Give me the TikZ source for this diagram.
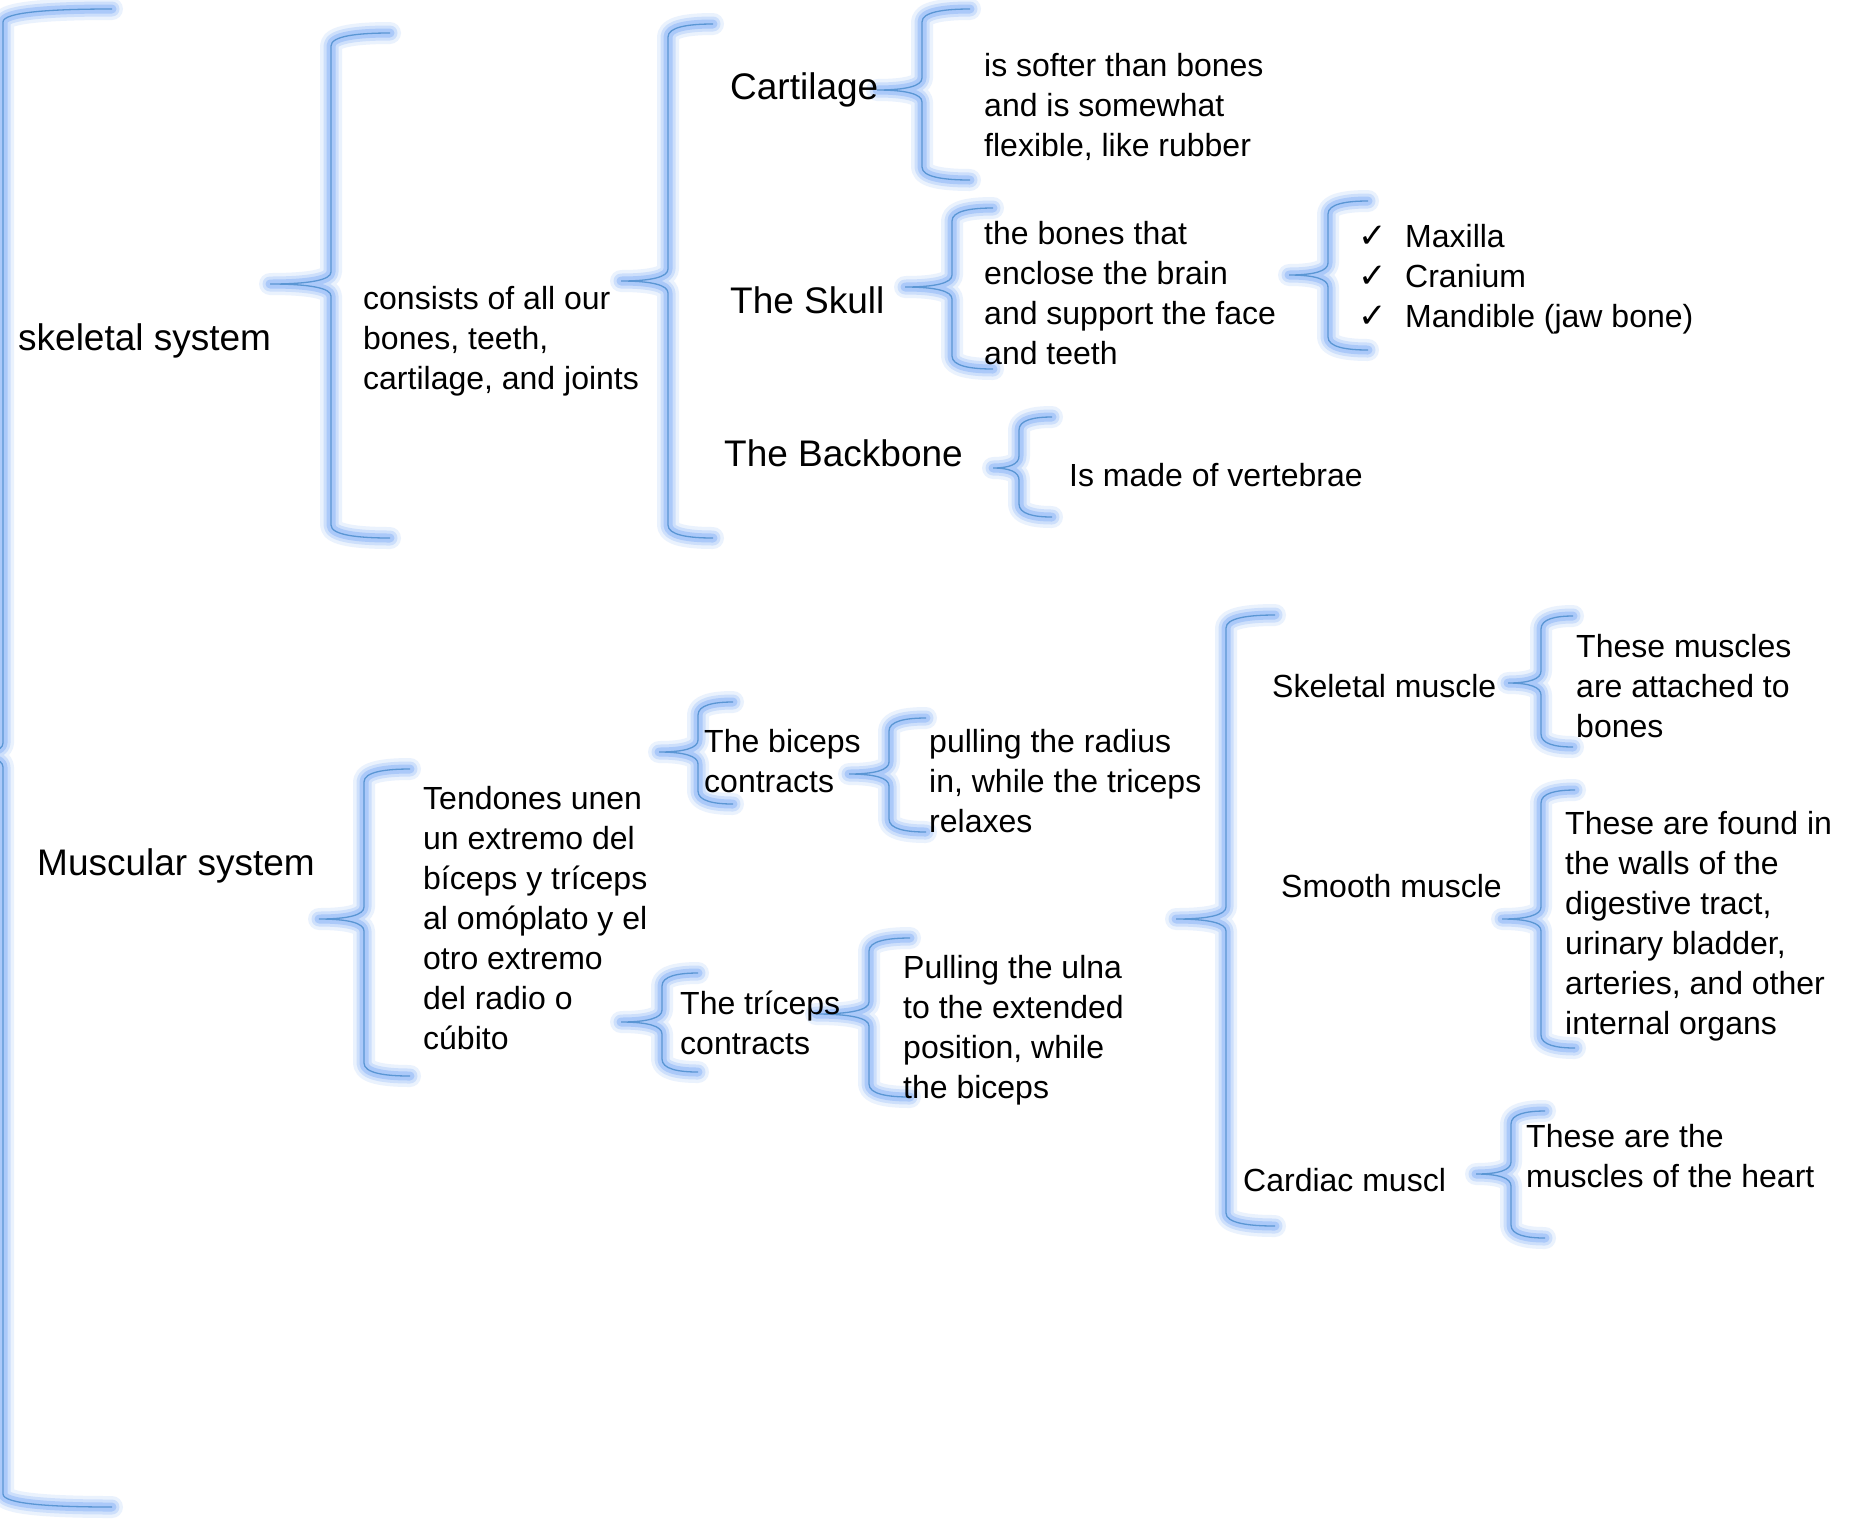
\documentclass[tikz,border=0pt]{standalone}
\usepackage{fontspec}
\setmainfont{Liberation Sans}
\newfontfamily\dejavu{DejaVu Sans}
\definecolor{glowc}{RGB}{130,175,248}
\definecolor{corec}{RGB}{90,150,212}
\tikzset{
 glowA/.style={draw=glowc, line width=22pt, draw opacity=0.16, line cap=round, line join=round},
 glowB/.style={draw=glowc, line width=15pt, draw opacity=0.28, line cap=round, line join=round},
 glowC/.style={draw=glowc, line width=9pt, draw opacity=0.45, line cap=round, line join=round},
 corel/.style={draw=corec, line width=1.3pt},
 big/.style={anchor=base west, inner sep=0, font=\fontsize{37}{44}\selectfont},
 txt/.style={anchor=north west, inner sep=0, align=left, font=\fontsize{32}{40}\selectfont},
}
% xr xv xtip ytop ymid ybot
\newcommand\bpath[6]{(#1,#4) .. controls ({#2+0.45*(#1-#2)},#4) and (#2,{#4+3}) .. (#2,{#4+13})
 -- (#2,{#5-12}) .. controls (#2,{#5-4}) and ({#2-0.35*(#2-#3)},#5) .. (#3,#5)
 .. controls ({#2-0.35*(#2-#3)},#5) and (#2,{#5+4}) .. (#2,{#5+12})
 -- (#2,{#6-13}) .. controls (#2,{#6-3}) and ({#2+0.45*(#1-#2)},#6) .. (#1,#6)}
\newcommand\gbrace[6]{%
 \draw[glowA] \bpath{#1}{#2}{#3}{#4}{#5}{#6};
 \draw[glowB] \bpath{#1}{#2}{#3}{#4}{#5}{#6};
 \draw[glowC] \bpath{#1}{#2}{#3}{#4}{#5}{#6};
 \draw[corel] \bpath{#1}{#2}{#3}{#4}{#5}{#6};
}
\newcommand\ck[1]{\makebox[47pt][l]{\dejavu\fontsize{34}{40}\selectfont ✓}#1}
\begin{document}
\begin{tikzpicture}[x=1pt,y=-1pt]
\useasboundingbox[fill=white] (0,0) rectangle (1854,1519);
% braces
\gbrace{112}{3}{-40}{9}{755}{1507}
\gbrace{390}{331}{270}{33}{284}{538}
\gbrace{713}{668}{621}{24}{281}{538}
\gbrace{970}{922}{877}{9}{90}{180}
\gbrace{993}{952}{905}{208}{287}{369}
\gbrace{1368}{1328}{1289}{201}{275}{350}
\gbrace{1052}{1019}{993}{417}{468}{517}
\gbrace{410}{364}{319}{769}{919}{1076}
\gbrace{733}{698}{659}{702}{752}{804}
\gbrace{926}{889}{849}{718}{774}{832}
\gbrace{698}{662}{621}{973}{1022}{1072}
\gbrace{910}{869}{816}{938}{1014}{1097}
\gbrace{1275}{1226}{1176}{615}{919}{1226}
\gbrace{1573}{1541}{1508}{616}{683}{747}
\gbrace{1575}{1541}{1502}{790}{919}{1048}
\gbrace{1545}{1511}{1476}{1111}{1174}{1238}
% skeletal
\node[big] (skel) at (18,350) {skeletal system};
\node[txt] (cons) at (363,281) {\strut consists of all our\\bones, teeth,\\cartilage, and joints};
\node[big] (cart) at (730,99) {Cartilage};
\node[txt] (soft) at (984,48) {\strut is softer than bones\\and is somewhat\\flexible, like rubber};
\node[big] (skull) at (730,313) {The Skull};
\node[txt] (enc) at (984,216) {\strut the bones that\\enclose the brain\\and support the face\\and teeth};
\node[txt] (list) at (1358,219) {\strut\ck{Maxilla}\\\ck{Cranium}\\\ck{Mandible (jaw bone)}};
\node[big] (back) at (724,466) {The Backbone};
\node[txt] (vert) at (1069,458) {\strut Is made of vertebrae};
% muscular
\node[big] (musc) at (37,875) {Muscular system};
\node[txt] (tend) at (423,781) {\strut Tendones unen\\un extremo del\\bíceps y tríceps\\al omóplato y el\\otro extremo\\del radio o\\cúbito};
\node[txt] (bic) at (704,724) {\strut The biceps\\contracts};
\node[txt] (rad) at (929,724) {\strut pulling the radius\\in, while the triceps\\relaxes};
\node[txt] (tri) at (680,986) {\strut The tríceps\\contracts};
\node[txt] (ulna) at (903,950) {\strut Pulling the ulna\\to the extended\\position, while\\the biceps};
\node[txt] (skm) at (1272,669) {\strut Skeletal muscle};
\node[txt] (skmd) at (1576,629) {\strut These muscles\\are attached to\\bones};
\node[txt] (smm) at (1281,869) {\strut Smooth muscle};
\node[txt] (smmd) at (1565,806) {\strut These are found in\\the walls of the\\digestive tract,\\urinary bladder,\\arteries, and other\\internal organs};
\node[txt] (card) at (1243,1163) {\strut Cardiac muscl};
\node[txt] (cardd) at (1526,1119) {\strut These are the\\muscles of the heart};
\end{tikzpicture}
\end{document}
